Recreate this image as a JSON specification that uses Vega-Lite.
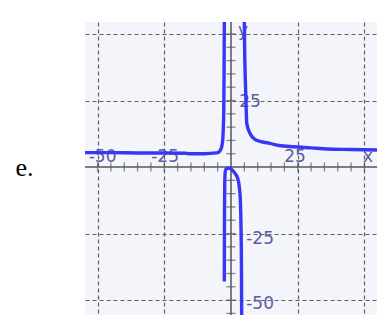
{
  "$schema": "https://vega.github.io/schema/vega-lite/v6.json",
  "width": 292,
  "height": 293,
  "autosize": "none",
  "padding": {"left": 85, "top": 22, "right": 6, "bottom": 10},
  "background": "white",
  "config": {"view": {"stroke": null, "fill": "#f4f5fa"}},
  "datasets": {
    "curve": [
      {"branch": "A", "x": -54.7, "y": 5.4},
      {"branch": "A", "x": -45, "y": 5.4},
      {"branch": "A", "x": -35, "y": 5.3},
      {"branch": "A", "x": -25, "y": 5.3},
      {"branch": "A", "x": -17, "y": 5.2},
      {"branch": "A", "x": -16, "y": 5.0},
      {"branch": "A", "x": -10, "y": 5.0},
      {"branch": "A", "x": -5.4, "y": 5.3},
      {"branch": "A", "x": -4.2, "y": 6.0},
      {"branch": "A", "x": -3.6, "y": 7.2},
      {"branch": "A", "x": -3.1, "y": 10.2},
      {"branch": "A", "x": -2.9, "y": 14},
      {"branch": "A", "x": -2.7, "y": 22},
      {"branch": "A", "x": -2.6, "y": 35},
      {"branch": "A", "x": -2.5, "y": 54.7},
      {"branch": "B", "x": -2.5, "y": -43},
      {"branch": "B", "x": -2.45, "y": -20},
      {"branch": "B", "x": -2.35, "y": -6},
      {"branch": "B", "x": -2.1, "y": -1.3},
      {"branch": "B", "x": -1.6, "y": -0.5},
      {"branch": "B", "x": -0.6, "y": -0.4},
      {"branch": "B", "x": 0.2, "y": -0.9},
      {"branch": "B", "x": 1.5, "y": -2.4},
      {"branch": "B", "x": 2.5, "y": -4.2},
      {"branch": "B", "x": 3.1, "y": -7.4},
      {"branch": "B", "x": 3.5, "y": -12.4},
      {"branch": "B", "x": 3.7, "y": -20},
      {"branch": "B", "x": 3.9, "y": -35},
      {"branch": "B", "x": 4.0, "y": -55.6},
      {"branch": "C", "x": 5.0, "y": 54.7},
      {"branch": "C", "x": 5.1, "y": 45},
      {"branch": "C", "x": 5.3, "y": 35},
      {"branch": "C", "x": 5.6, "y": 25},
      {"branch": "C", "x": 5.9, "y": 16.4},
      {"branch": "C", "x": 7.1, "y": 12.7},
      {"branch": "C", "x": 9, "y": 10.4},
      {"branch": "C", "x": 11.5, "y": 9.5},
      {"branch": "C", "x": 14.6, "y": 8.9},
      {"branch": "C", "x": 18, "y": 8.1},
      {"branch": "C", "x": 23.6, "y": 7.6},
      {"branch": "C", "x": 30, "y": 7.2},
      {"branch": "C", "x": 36, "y": 6.8},
      {"branch": "C", "x": 45, "y": 6.6},
      {"branch": "C", "x": 54.7, "y": 6.4}
    ],
    "xticks": [
      {"x": -50}, {"x": -45}, {"x": -40}, {"x": -35}, {"x": -30}, {"x": -25},
      {"x": -20}, {"x": -15}, {"x": -10}, {"x": -5}, {"x": 5}, {"x": 10},
      {"x": 15}, {"x": 20}, {"x": 25}, {"x": 30}, {"x": 35}, {"x": 40},
      {"x": 45}, {"x": 50}
    ],
    "yticks": [
      {"y": -55}, {"y": -50}, {"y": -45}, {"y": -40}, {"y": -35}, {"y": -30},
      {"y": -25}, {"y": -20}, {"y": -15}, {"y": -10}, {"y": -5}, {"y": 5},
      {"y": 10}, {"y": 15}, {"y": 20}, {"y": 25}, {"y": 30}, {"y": 35},
      {"y": 40}, {"y": 45}, {"y": 50}
    ],
    "labels": [
      {"x": -48.1, "y": 3.9, "label": "-50"},
      {"x": -24.7, "y": 3.9, "label": "-25"},
      {"x": 24, "y": 3.9, "label": "25"},
      {"x": 51.3, "y": 3.9, "label": "x"},
      {"x": 7.1, "y": 24.6, "label": "25"},
      {"x": 10.9, "y": -26.9, "label": "-25"},
      {"x": 10.9, "y": -51.3, "label": "-50"},
      {"x": 4.5, "y": 51.1, "label": "y"}
    ]
  },
  "layer": [
    {
      "data": {"name": "curve"},
      "mark": {"type": "line", "opacity": 0},
      "encoding": {
        "x": {
          "field": "x", "type": "quantitative",
          "scale": {"domain": [-54.7, 54.7], "nice": false, "zero": false},
          "axis": {"values": [-50, -25, 25, 50], "grid": true, "gridDash": [4, 3], "gridColor": "#5f5f5f", "gridWidth": 1.2, "domain": false, "ticks": false, "labels": false, "title": null}
        },
        "y": {
          "field": "y", "type": "quantitative",
          "scale": {"domain": [-55.6, 54.5], "nice": false, "zero": false},
          "axis": {"values": [-50, -25, 25, 50], "grid": true, "gridDash": [4, 3], "gridColor": "#5f5f5f", "gridWidth": 1.2, "domain": false, "ticks": false, "labels": false,
            "title": "e.", "titleAngle": 0, "titleX": -61, "titleY": 153, "titleAlign": "center", "titleBaseline": "alphabetic",
            "titleFont": "Liberation Serif", "titleFontSize": 26, "titleFontWeight": "normal", "titleColor": "black"}
        },
        "detail": {"field": "branch"}
      }
    },
    {
      "data": {"values": [{}]},
      "mark": {"type": "rule", "color": "#555555", "strokeWidth": 1.5},
      "encoding": {"y": {"datum": 0, "type": "quantitative"}}
    },
    {
      "data": {"values": [{}]},
      "mark": {"type": "rule", "color": "#555555", "strokeWidth": 1.5},
      "encoding": {"x": {"datum": 0, "type": "quantitative"}}
    },
    {
      "data": {"name": "xticks"},
      "mark": {"type": "tick", "orient": "vertical", "color": "#555555", "size": 9, "thickness": 1.3},
      "encoding": {
        "x": {"field": "x", "type": "quantitative"},
        "y": {"datum": 0, "type": "quantitative"}
      }
    },
    {
      "data": {"name": "yticks"},
      "mark": {"type": "tick", "orient": "horizontal", "color": "#555555", "size": 9, "thickness": 1.3},
      "encoding": {
        "y": {"field": "y", "type": "quantitative"},
        "x": {"datum": 0, "type": "quantitative"}
      }
    },
    {
      "data": {"name": "labels"},
      "mark": {"type": "text", "font": "DejaVu Sans", "fontSize": 17, "color": "#5c5ca6", "align": "center", "baseline": "middle"},
      "encoding": {
        "x": {"field": "x", "type": "quantitative"},
        "y": {"field": "y", "type": "quantitative"},
        "text": {"field": "label"}
      }
    },
    {
      "data": {"name": "curve"},
      "mark": {"type": "line", "color": "#3737f5", "strokeWidth": 3.4, "clip": true, "interpolate": "monotone"},
      "encoding": {
        "x": {"field": "x", "type": "quantitative"},
        "y": {"field": "y", "type": "quantitative"},
        "detail": {"field": "branch"}
      }
    }
  ]
}
